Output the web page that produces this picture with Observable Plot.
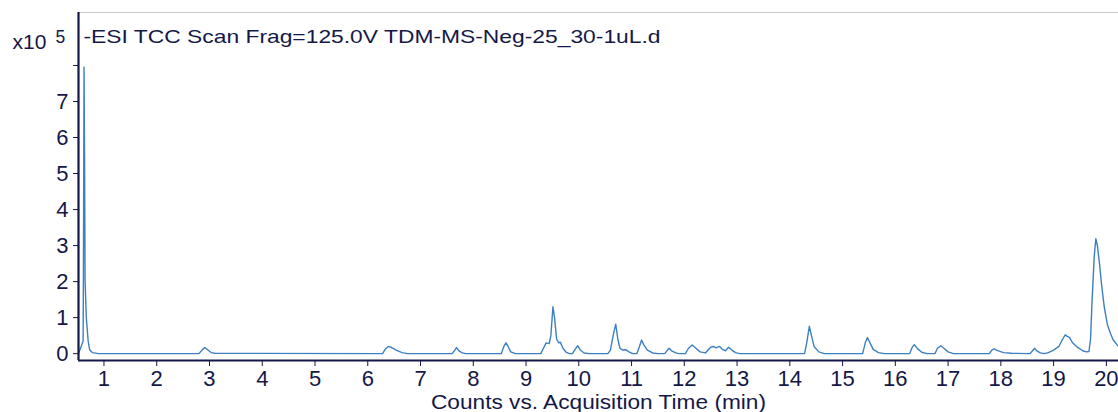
<!DOCTYPE html>
<html>
<head>
<meta charset="utf-8">
<script src="https://cdn.jsdelivr.net/npm/d3@7"></script>
<script src="https://cdn.jsdelivr.net/npm/@observablehq/plot@0.6"></script>
<style>
  html, body { margin: 0; padding: 0; background: #fff; }
  #chart svg { display: block; }
</style>
</head>
<body>
<div id="chart"></div>
<script>
// Acquisition time (min)
const times = [
  0.52, 0.555, 0.593, 0.605, 0.612, 0.622, 0.632, 0.642, 0.665, 0.70, 0.73, 0.78, 0.90,
  2.80, 2.86, 2.91, 2.97, 3.03, 3.10,
  6.28, 6.33, 6.39, 6.45, 6.55, 6.65, 6.75,
  7.60, 7.65, 7.68, 7.72, 7.78, 7.85,
  8.53, 8.58, 8.62, 8.66, 8.71, 8.80,
  9.28, 9.33, 9.38, 9.44, 9.47, 9.51, 9.54, 9.58, 9.62, 9.65, 9.70, 9.76, 9.82,
  9.88, 9.93, 9.98, 10.03, 10.10, 10.20,
  10.55, 10.60, 10.65, 10.70, 10.74, 10.78, 10.83, 10.89, 10.95, 11.02,
  11.10, 11.15, 11.19, 11.23, 11.30, 11.40, 11.50,
  11.63, 11.68, 11.71, 11.76, 11.84, 11.90,
  12.02, 12.08, 12.15, 12.22, 12.30, 12.40,
  12.45, 12.50, 12.55, 12.60, 12.67, 12.72, 12.78, 12.84, 12.90, 12.97, 13.05,
  14.28, 14.32, 14.37, 14.41, 14.46, 14.55, 14.65,
  15.38, 15.43, 15.47, 15.52, 15.58, 15.68, 15.80,
  16.27, 16.32, 16.36, 16.42, 16.50, 16.60,
  16.75, 16.80, 16.86, 16.92, 17.00, 17.10,
  17.78, 17.83, 17.87, 17.93, 18.05, 18.20, 18.55,
  18.60, 18.64, 18.68, 18.75, 18.82, 18.90, 19.00, 19.10, 19.17, 19.22, 19.26, 19.30,
  19.36, 19.45, 19.55, 19.62, 19.67, 19.70, 19.73, 19.77, 19.80, 19.83, 19.87, 19.91,
  19.96, 20.02, 20.08, 20.13, 20.20, 20.25
];
// Counts (x10^5)
const counts = [
  0.02, 0.15, 0.30, 0.35, 3.0, 7.95, 5.5, 2.0, 1.0, 0.35, 0.10, 0.03, 0.0,
  0.0, 0.10, 0.17, 0.10, 0.03, 0.01,
  0.0, 0.12, 0.20, 0.17, 0.09, 0.03, 0.0,
  0.0, 0.10, 0.17, 0.09, 0.03, 0.0,
  0.0, 0.20, 0.30, 0.20, 0.05, 0.0,
  0.0, 0.15, 0.30, 0.28, 0.50, 1.30, 1.00, 0.40, 0.30, 0.32, 0.15, 0.04, 0.0,
  0.0, 0.12, 0.22, 0.10, 0.02, 0.0,
  0.0, 0.10, 0.50, 0.82, 0.40, 0.15, 0.10, 0.11, 0.05, 0.0,
  0.0, 0.20, 0.38, 0.25, 0.10, 0.02, 0.0,
  0.0, 0.10, 0.15, 0.08, 0.02, 0.0,
  0.0, 0.15, 0.24, 0.15, 0.05, 0.02,
  0.10, 0.18, 0.20, 0.16, 0.20, 0.12, 0.08, 0.18, 0.10, 0.03, 0.0,
  0.0, 0.30, 0.76, 0.50, 0.20, 0.05, 0.0,
  0.0, 0.30, 0.45, 0.30, 0.12, 0.03, 0.0,
  0.0, 0.18, 0.25, 0.14, 0.04, 0.0,
  0.0, 0.15, 0.22, 0.15, 0.05, 0.0,
  0.0, 0.10, 0.13, 0.09, 0.03, 0.01, 0.0,
  0.08, 0.15, 0.08, 0.02, 0.0, 0.03, 0.10, 0.20, 0.40, 0.52, 0.48, 0.45,
  0.30, 0.18, 0.08, 0.05, 0.06, 0.40, 1.50, 2.70, 3.19, 3.00, 2.50, 1.90,
  1.30, 0.80, 0.55, 0.38, 0.25, 0.18
];
const xTicks = [1, 2, 3, 4, 5, 6, 7, 8, 9, 10, 11, 12, 13, 14, 15, 16, 17, 18, 19, 20];
const yTicks = [0, 1, 2, 3, 4, 5, 6, 7, 8];
const yTickLabels = ["0", "1", "2", "3", "4", "5", "6", "7", ""];
const xDomain = [0.517, 20.23];
const yDomain = [-0.19, 9.47];
const titleText = "-ESI TCC Scan Frag=125.0V TDM-MS-Neg-25_30-1uL.d";
const xLabel = "Counts vs. Acquisition Time (min)";

const data = times.map((t, i) => ({t, v: counts[i]}));
const ink = "#141848";
const font = "Liberation Sans, Arial, sans-serif";

const chart = Plot.plot({
  width: 1118,
  height: 412,
  marginLeft: 78,
  marginRight: 0,
  marginTop: 12,
  marginBottom: 52,
  style: {fontFamily: font, color: ink, background: "#fff"},
  x: {domain: xDomain},
  y: {domain: yDomain},
  marks: [
    Plot.ruleY([yDomain[1]], {stroke: "#c8c8d0", strokeWidth: 1.2}),
    Plot.line(data, {x: "t", y: "v", stroke: "#3d80c2", strokeWidth: 1.4, curve: "linear"}),
    Plot.ruleX([xDomain[0]], {stroke: ink, strokeWidth: 2.2}),
    Plot.ruleY([yDomain[0]], {stroke: ink, strokeWidth: 2.2}),
    Plot.axisX({ticks: xTicks, tickSize: 6, tickPadding: 4, fontSize: 22, stroke: ink, fill: ink,
      label: xLabel, labelAnchor: "center", labelArrow: "none", labelOffset: 48}),
    Plot.axisY({ticks: yTicks, tickFormat: (d, i) => yTickLabels[i], tickSize: 5, tickPadding: 5,
      fontSize: 22, stroke: ink, fill: ink, label: null}),
    Plot.text([titleText], {frameAnchor: "top-left", dx: 5, dy: 17, fontSize: 18.6, fill: ink, textAnchor: "start", lineAnchor: "top", className: "title-text"}),
    Plot.text(["x10"], {frameAnchor: "top-left", dx: -66, dy: 22, fontSize: 21, fill: ink, textAnchor: "start", lineAnchor: "top"}),
    Plot.text(["5"], {frameAnchor: "top-left", dx: -23, dy: 18.5, fontSize: 17.5, fill: ink, textAnchor: "start", lineAnchor: "top"})
  ]
});
document.getElementById("chart").appendChild(chart);
// stretch title horizontally like the reference
d3.select(chart).selectAll(".title-text text")
  .attr("textLength", 577).attr("lengthAdjust", "spacingAndGlyphs");
d3.select(chart).selectAll("[aria-label='x-axis label'] text")
  .attr("font-size", 21).attr("textLength", 335).attr("lengthAdjust", "spacingAndGlyphs");
</script>
</body>
</html>
